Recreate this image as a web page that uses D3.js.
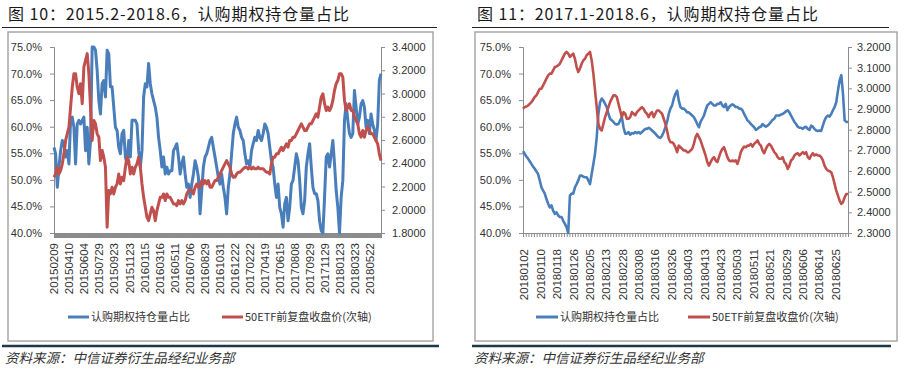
<!DOCTYPE html>
<html>
<head>
<meta charset="utf-8">
<script src="https://cdn.jsdelivr.net/npm/d3@7"></script>
<style>
  body { margin: 0; background: #fff; }
  svg { display: block; font-family: "Liberation Sans", Arial, sans-serif; }
  .title { font-family: "Noto Sans CJK SC", sans-serif; font-size: 16px; fill: #1a1a1a; letter-spacing: 0.9px; }
  .tick text { font-size: 11px; fill: #333; }
  .date-label { font-size: 11.5px; fill: #333; }
  .legend-label { font-family: "Noto Sans CJK SC", sans-serif; font-size: 11px; fill: #333; }
  .source { font-family: "Noto Sans CJK SC", sans-serif; font-size: 13.5px; font-style: italic; fill: #333; }
</style>
</head>
<body>
<svg id="chart" width="904" height="370"></svg>
<script>
const seriesNames = ["认购期权持仓量占比", "50ETF前复盘收盘价(次轴)"];
const sourceNote = "资料来源：中信证券衍生品经纪业务部";

// left chart: 2015.2 - 2018.6
const leftTitle = "图 10：2015.2-2018.6，认购期权持仓量占比";
const leftDateLabels = ["20150209", "20150410", "20150604", "20150729", "20150923", "20151123",
  "20160115", "20160316", "20160511", "20160706", "20160829", "20161031", "20161222",
  "20170222", "20170419", "20170615", "20170808", "20170929", "20171129", "20180123",
  "20180323", "20180522"];
const leftDayCount = 847;
const leftLabelStep = 39;
const leftShareTicks = [40, 45, 50, 55, 60, 65, 70, 75];
const leftEtfTicks = [1.8, 2.0, 2.2, 2.4, 2.6, 2.8, 3.0, 3.2, 3.4];

const leftCallShare = [
  56.1, 54.9, 48.6, 52.4, 55.5, 57.4, 56.8, 54.3, 55.5, 53.0,
  61.2, 61.8, 59.9, 53.0, 60.5, 61.2, 60.5, 61.2, 61.8, 55.5,
  59.9, 53.0, 57.4, 75.0, 75.0, 74.4, 70.6, 64.9, 62.4, 68.1,
  68.7, 65.6, 74.4, 73.7, 67.5, 67.5, 63.7, 59.9, 59.3, 56.1,
  54.9, 58.7, 59.3, 54.3, 53.0, 57.4, 54.3, 61.2, 61.2, 61.2,
  60.5, 55.5, 52.4, 55.5, 65.6, 68.1, 67.5, 71.9, 68.1, 66.2,
  64.9, 63.7, 61.8, 58.0, 55.5, 52.4, 54.3, 51.1, 52.4, 51.1,
  51.7, 51.7, 55.5, 56.1, 56.8, 54.3, 51.1, 53.0, 54.3, 51.1,
  48.6, 49.2, 46.7, 49.2, 51.1, 53.6, 52.4, 50.5, 43.6, 48.0,
  52.4, 54.3, 54.9, 56.1, 57.4, 58.0, 56.1, 54.3, 52.4, 50.5,
  49.2, 51.1, 48.6, 46.7, 43.6, 48.6, 51.1, 54.9, 58.7, 60.5,
  61.8, 59.9, 59.3, 58.0, 57.4, 54.9, 53.0, 53.6, 52.4, 55.5,
  56.8, 58.0, 57.4, 59.3, 58.0, 57.4, 58.7, 60.5, 59.9, 58.7,
  56.1, 53.6, 52.4, 49.2, 46.7, 49.2, 44.8, 43.6, 41.1, 45.5,
  46.7, 42.3, 44.8, 49.2, 49.9, 52.4, 54.9, 53.6, 49.9, 44.8,
  43.6, 46.1, 52.4, 54.9, 56.8, 52.4, 48.6, 47.4, 47.4, 46.1,
  42.3, 40.4, 40.0, 46.7, 54.3, 54.9, 52.4, 54.9, 57.4, 53.0,
  48.0, 44.8, 40.0, 46.7, 49.9, 61.2, 64.3, 61.2, 58.7, 58.0,
  58.7, 66.8, 63.7, 60.5, 61.8, 64.3, 64.9, 63.7, 59.9, 61.2,
  58.7, 62.4, 60.5, 59.3, 57.4, 60.5, 68.7, 70.0
];
const leftEtfClose = [
  2.280, 2.308, 2.366, 2.308, 2.337, 2.395, 2.481, 2.596, 2.653, 2.711,
  2.883, 3.055, 3.170, 3.170, 3.055, 2.998, 3.084, 2.912, 3.228, 3.285,
  3.343, 3.170, 2.883, 2.596, 2.768, 2.739, 2.653, 2.624, 2.423, 2.510,
  2.452, 2.366, 1.849, 2.165, 2.136, 2.194, 2.136, 2.194, 2.222, 2.308,
  2.222, 2.280, 2.251, 2.366, 2.452, 2.423, 2.308, 2.366, 2.308, 2.366,
  2.395, 2.452, 2.366, 2.222, 2.107, 2.021, 1.935, 1.906, 1.964, 2.021,
  1.992, 1.906, 1.992, 2.050, 2.107, 2.107, 2.136, 2.079, 2.136, 2.107,
  2.107, 2.079, 2.050, 2.050, 2.036, 2.079, 2.050, 2.079, 2.050, 2.079,
  2.136, 2.165, 2.165, 2.165, 2.136, 2.194, 2.222, 2.194, 2.194, 2.251,
  2.222, 2.251, 2.222, 2.251, 2.194, 2.194, 2.222, 2.251, 2.251, 2.280,
  2.308, 2.337, 2.366, 2.395, 2.423, 2.395, 2.366, 2.308, 2.280, 2.280,
  2.308, 2.323, 2.323, 2.337, 2.352, 2.366, 2.366, 2.352, 2.366, 2.352,
  2.366, 2.352, 2.352, 2.366, 2.352, 2.352, 2.352, 2.337, 2.323, 2.323,
  2.308, 2.395, 2.452, 2.452, 2.481, 2.481, 2.510, 2.538, 2.510, 2.538,
  2.567, 2.538, 2.596, 2.596, 2.624, 2.624, 2.653, 2.682, 2.711, 2.739,
  2.711, 2.682, 2.682, 2.711, 2.739, 2.739, 2.768, 2.797, 2.826, 2.797,
  2.883, 2.969, 2.998, 2.912, 2.854, 2.883, 2.854, 2.883, 2.940, 3.027,
  3.084, 3.113, 3.170, 3.170, 3.141, 2.940, 2.854, 2.883, 2.912, 2.854,
  2.854, 2.797, 2.768, 2.739, 2.653, 2.624, 2.682, 2.624, 2.682, 2.711,
  2.682, 2.653, 2.653, 2.624, 2.596, 2.567, 2.481, 2.423
];

// right chart: 2018.1 - 2018.6
const rightTitle = "图 11：2017.1-2018.6，认购期权持仓量占比";
const rightDateLabels = ["20180102", "20180110", "20180118", "20180126", "20180205", "20180213",
  "20180228", "20180308", "20180316", "20180326", "20180403", "20180413", "20180423",
  "20180503", "20180511", "20180521", "20180529", "20180606", "20180614", "20180625"];
const rightDayCount = 119;
const rightLabelStep = 6;
const rightShareTicks = [40, 45, 50, 55, 60, 65, 70, 75];
const rightEtfTicks = [2.3, 2.4, 2.5, 2.6, 2.7, 2.8, 2.9, 3.0, 3.1, 3.2];

const rightCallShare = [
  55.4, 54.9, 54.4, 54.0, 53.5, 53.0, 52.5, 52.1, 51.6, 51.1,
  49.9, 48.6, 48.0, 47.4, 46.4, 45.5, 44.8, 45.2, 44.2, 43.6,
  43.9, 43.3, 43.0, 43.0, 42.3, 41.7, 41.1, 40.0, 47.0, 47.4,
  47.4, 48.6, 49.2, 49.9, 50.8, 50.8, 50.6, 50.5, 50.5, 49.9,
  49.2, 51.1, 53.0, 54.9, 58.0, 62.4, 64.6, 65.3, 64.9, 64.3,
  63.7, 62.4, 61.5, 61.2, 60.9, 60.5, 60.4, 60.5, 61.2, 61.8,
  59.9, 58.7, 58.7, 59.0, 58.5, 58.8, 58.7, 59.0, 58.8, 59.0,
  58.7, 59.0, 59.3, 59.6, 59.6, 59.8, 59.6, 59.3, 59.0, 58.7,
  58.3, 58.0, 57.9, 58.3, 59.0, 59.9, 60.9, 62.4, 63.4, 64.0,
  65.3, 66.2, 66.8, 64.9, 63.7, 63.4, 63.4, 63.1, 62.7, 62.7,
  62.4, 62.1, 61.8, 61.2, 60.5, 59.9, 60.9, 61.5, 62.1, 63.1,
  64.0, 64.3, 64.6, 64.3, 64.0, 64.0, 64.3, 64.3, 64.6, 64.0,
  63.7, 64.3, 63.1, 63.7, 64.0, 64.2, 64.0, 63.7, 63.7, 63.4,
  63.4, 63.1, 62.4, 61.8, 61.2, 60.9, 60.5, 60.2, 59.9, 59.4,
  59.6, 59.9, 60.0, 60.5, 60.2, 60.0, 60.2, 60.5, 60.9, 61.3,
  61.5, 62.1, 62.1, 62.1, 62.3, 62.4, 62.6, 62.9, 63.1, 62.7,
  62.1, 61.5, 60.9, 60.5, 60.0, 59.8, 59.8, 59.6, 59.9, 60.0,
  59.6, 59.4, 60.2, 60.0, 59.6, 59.3, 59.2, 59.3, 59.2, 60.2,
  61.2, 61.8, 62.1, 61.9, 62.4, 63.1, 63.7, 64.6, 66.8, 68.7,
  69.7, 66.2, 61.2, 60.9, 60.9
];
const rightEtfClose = [
  2.901, 2.909, 2.912, 2.917, 2.925, 2.933, 2.945, 2.958, 2.966, 2.982,
  2.998, 2.998, 3.014, 3.030, 3.047, 3.063, 3.071, 3.071, 3.087, 3.103,
  3.106, 3.111, 3.119, 3.135, 3.152, 3.168, 3.176, 3.168, 3.152, 3.160,
  3.168, 3.143, 3.103, 3.079, 3.095, 3.119, 3.135, 3.143, 3.160, 3.168,
  3.176, 3.135, 3.071, 2.990, 2.909, 2.828, 2.804, 2.796, 2.828, 2.861,
  2.885, 2.909, 2.933, 2.950, 2.966, 2.966, 2.958, 2.925, 2.893, 2.861,
  2.885, 2.877, 2.853, 2.853, 2.861, 2.885, 2.877, 2.869, 2.885, 2.893,
  2.901, 2.909, 2.901, 2.885, 2.877, 2.861, 2.877, 2.885, 2.861, 2.877,
  2.893, 2.893, 2.885, 2.877, 2.853, 2.828, 2.796, 2.756, 2.739, 2.739,
  2.731, 2.715, 2.691, 2.723, 2.715, 2.707, 2.699, 2.699, 2.691, 2.691,
  2.699, 2.707, 2.731, 2.764, 2.780, 2.764, 2.748, 2.723, 2.699, 2.675,
  2.643, 2.626, 2.643, 2.659, 2.667, 2.651, 2.643, 2.667, 2.691, 2.707,
  2.715, 2.691, 2.667, 2.651, 2.647, 2.651, 2.647, 2.651, 2.634, 2.659,
  2.691, 2.707, 2.718, 2.715, 2.723, 2.723, 2.731, 2.718, 2.731, 2.739,
  2.748, 2.731, 2.723, 2.699, 2.686, 2.707, 2.723, 2.731, 2.723, 2.707,
  2.691, 2.683, 2.667, 2.659, 2.659, 2.667, 2.643, 2.634, 2.610, 2.626,
  2.651, 2.659, 2.675, 2.683, 2.686, 2.675, 2.683, 2.691, 2.683, 2.691,
  2.667, 2.659, 2.675, 2.686, 2.675, 2.680, 2.675, 2.675, 2.667, 2.651,
  2.626, 2.610, 2.602, 2.599, 2.594, 2.570, 2.538, 2.505, 2.481, 2.457,
  2.441, 2.449, 2.473, 2.489, 2.489
];

const BLUE = "#4a7ebb";
const RED = "#c0504d";
const AXIS_GREY = "#8c8c8c";


class ChartPanel {

  constructor(svg, layout) {
    const self = this;
    self._svg = svg;
    self._layout = layout;
    self._fmtShare = (x) => d3.format(".1f")(x) + "%";
    self._fmtEtf = (x) => d3.format(".4f")(x);
  }

  draw(panel) {
    const self = this;
    self._g = self._svg.append("g").classed("panel", true);

    self._drawFrame(panel);
    self._buildScales(panel);
    self._drawAxes(panel);
    self._drawLines(panel);
    self._drawLegend();
    self._drawSource();
  }

  _drawFrame(panel) {
    const self = this;
    const lay = self._layout;

    self._g.append("text")
      .classed("title", true)
      .attr("x", lay.titleX)
      .attr("y", 20)
      .text(panel.title);

    self._g.append("line")
      .attr("x1", lay.ruleLeft).attr("x2", lay.ruleRight)
      .attr("y1", 27.5).attr("y2", 27.5)
      .attr("stroke", "#222").attr("stroke-width", 1);

    self._g.append("rect")
      .attr("x", lay.frameLeft).attr("y", 32)
      .attr("width", lay.frameRight - lay.frameLeft).attr("height", 309)
      .attr("fill", "#fff")
      .attr("stroke", "#a8a8a8").attr("stroke-width", 1.5);
  }

  _buildScales(panel) {
    const self = this;
    const lay = self._layout;

    self._shareScale = d3.scaleLinear()
      .domain(d3.extent(panel.shareTicks))
      .range([lay.plotBottom, lay.plotTop]);

    self._etfScale = d3.scaleLinear()
      .domain(d3.extent(panel.etfTicks))
      .range([lay.plotBottom, lay.plotTop]);

    self._dayScale = d3.scaleLinear()
      .domain([0, panel.dayCount])
      .range([lay.plotLeft, lay.plotRight]);
  }

  _drawAxes(panel) {
    const self = this;
    const lay = self._layout;

    // category axis: one tick per trading day
    const xAxis = self._g.append("g")
      .attr("transform", "translate(0," + lay.plotBottom + ")")
      .call(d3.axisBottom(self._dayScale)
        .tickValues(d3.range(0, panel.dayCount + 1))
        .tickSize(lay.dayTickSize)
        .tickFormat(""));
    xAxis.selectAll("line, path").attr("stroke", AXIS_GREY);

    const labelIndex = panel.dateLabels.map((d, i) => i * panel.labelStep + 0.5);
    self._g.append("g").selectAll(".date-label")
      .data(panel.dateLabels)
      .enter()
      .append("text")
      .classed("date-label", true)
      .attr("transform", (d, i) =>
        "translate(" + self._dayScale(labelIndex[i]) + "," + lay.dateTop + ") rotate(-90)")
      .attr("dy", "0.35em")
      .attr("text-anchor", "end")
      .text((d) => d);

    const leftAxis = self._g.append("g")
      .attr("transform", "translate(" + lay.plotLeft + ",0)")
      .call(d3.axisLeft(self._shareScale)
        .tickValues(panel.shareTicks)
        .tickSize(4)
        .tickPadding(lay.leftPad)
        .tickFormat(self._fmtShare));
    leftAxis.selectAll("line, path").attr("stroke", AXIS_GREY);

    const rightAxis = self._g.append("g")
      .attr("transform", "translate(" + lay.plotRight + ",0)")
      .call(d3.axisRight(self._etfScale)
        .tickValues(panel.etfTicks)
        .tickSize(4)
        .tickPadding(lay.rightPad)
        .tickFormat(self._fmtEtf));
    rightAxis.selectAll("line, path").attr("stroke", AXIS_GREY);
  }

  _drawLines(panel) {
    const self = this;
    const lay = self._layout;

    const sampleX = (values) => (d, i) =>
      self._dayScale(i * panel.dayCount / (values.length - 1));

    const shareLine = d3.line()
      .x(sampleX(panel.share))
      .y((d) => self._shareScale(d));

    const etfLine = d3.line()
      .x(sampleX(panel.etf))
      .y((d) => self._etfScale(d));

    self._g.append("path")
      .datum(panel.share)
      .attr("fill", "none")
      .attr("stroke", BLUE)
      .attr("stroke-width", lay.lineWidth)
      .attr("stroke-linejoin", "round")
      .attr("d", shareLine);

    self._g.append("path")
      .datum(panel.etf)
      .attr("fill", "none")
      .attr("stroke", RED)
      .attr("stroke-width", lay.lineWidth)
      .attr("stroke-linejoin", "round")
      .attr("d", etfLine);
  }

  _drawLegend() {
    const self = this;
    const lay = self._layout;
    const colors = [BLUE, RED];

    const items = self._g.append("g").selectAll(".legend-item")
      .data(seriesNames)
      .enter()
      .append("g")
      .classed("legend-item", true)
      .attr("transform", (d, i) => "translate(" + lay.legendX[i] + "," + lay.legendY + ")");

    items.append("line")
      .attr("x1", 0).attr("x2", lay.legendSwatch)
      .attr("y1", 0).attr("y2", 0)
      .attr("stroke", (d, i) => colors[i])
      .attr("stroke-width", 3);

    items.append("text")
      .classed("legend-label", true)
      .attr("x", lay.legendSwatch + 2)
      .attr("dy", "0.36em")
      .text((d) => d);
  }

  _drawSource() {
    const self = this;
    const lay = self._layout;

    self._g.append("line")
      .attr("x1", lay.ruleLeft).attr("x2", lay.ruleRight + 2)
      .attr("y1", 346).attr("y2", 346)
      .attr("stroke", "#1d3848").attr("stroke-width", 2.5);

    self._g.append("text")
      .classed("source", true)
      .attr("x", lay.titleX - 3)
      .attr("y", 363)
      .text(sourceNote);
  }

}


const svg = d3.select("#chart");

new ChartPanel(svg, {
  titleX: 8, ruleLeft: 2, ruleRight: 437, frameLeft: 8, frameRight: 433,
  plotLeft: 54, plotRight: 381, plotTop: 47, plotBottom: 233,
  dayTickSize: 5, dateTop: 243, leftPad: 8, rightPad: 7, lineWidth: 3,
  legendX: [68, 222], legendY: 317, legendSwatch: 21
}).draw({
  title: leftTitle, dateLabels: leftDateLabels, dayCount: leftDayCount,
  labelStep: leftLabelStep, shareTicks: leftShareTicks, etfTicks: leftEtfTicks,
  share: leftCallShare, etf: leftEtfClose
});

new ChartPanel(svg, {
  titleX: 477, ruleLeft: 472, ruleRight: 889, frameLeft: 475, frameRight: 897,
  plotLeft: 523, plotRight: 848, plotTop: 47, plotBottom: 233,
  dayTickSize: 4, dateTop: 249, leftPad: 8, rightPad: 5, lineWidth: 2.6,
  legendX: [536, 688], legendY: 317, legendSwatch: 22
}).draw({
  title: rightTitle, dateLabels: rightDateLabels, dayCount: rightDayCount,
  labelStep: rightLabelStep, shareTicks: rightShareTicks, etfTicks: rightEtfTicks,
  share: rightCallShare, etf: rightEtfClose
});
</script>
</body>
</html>
